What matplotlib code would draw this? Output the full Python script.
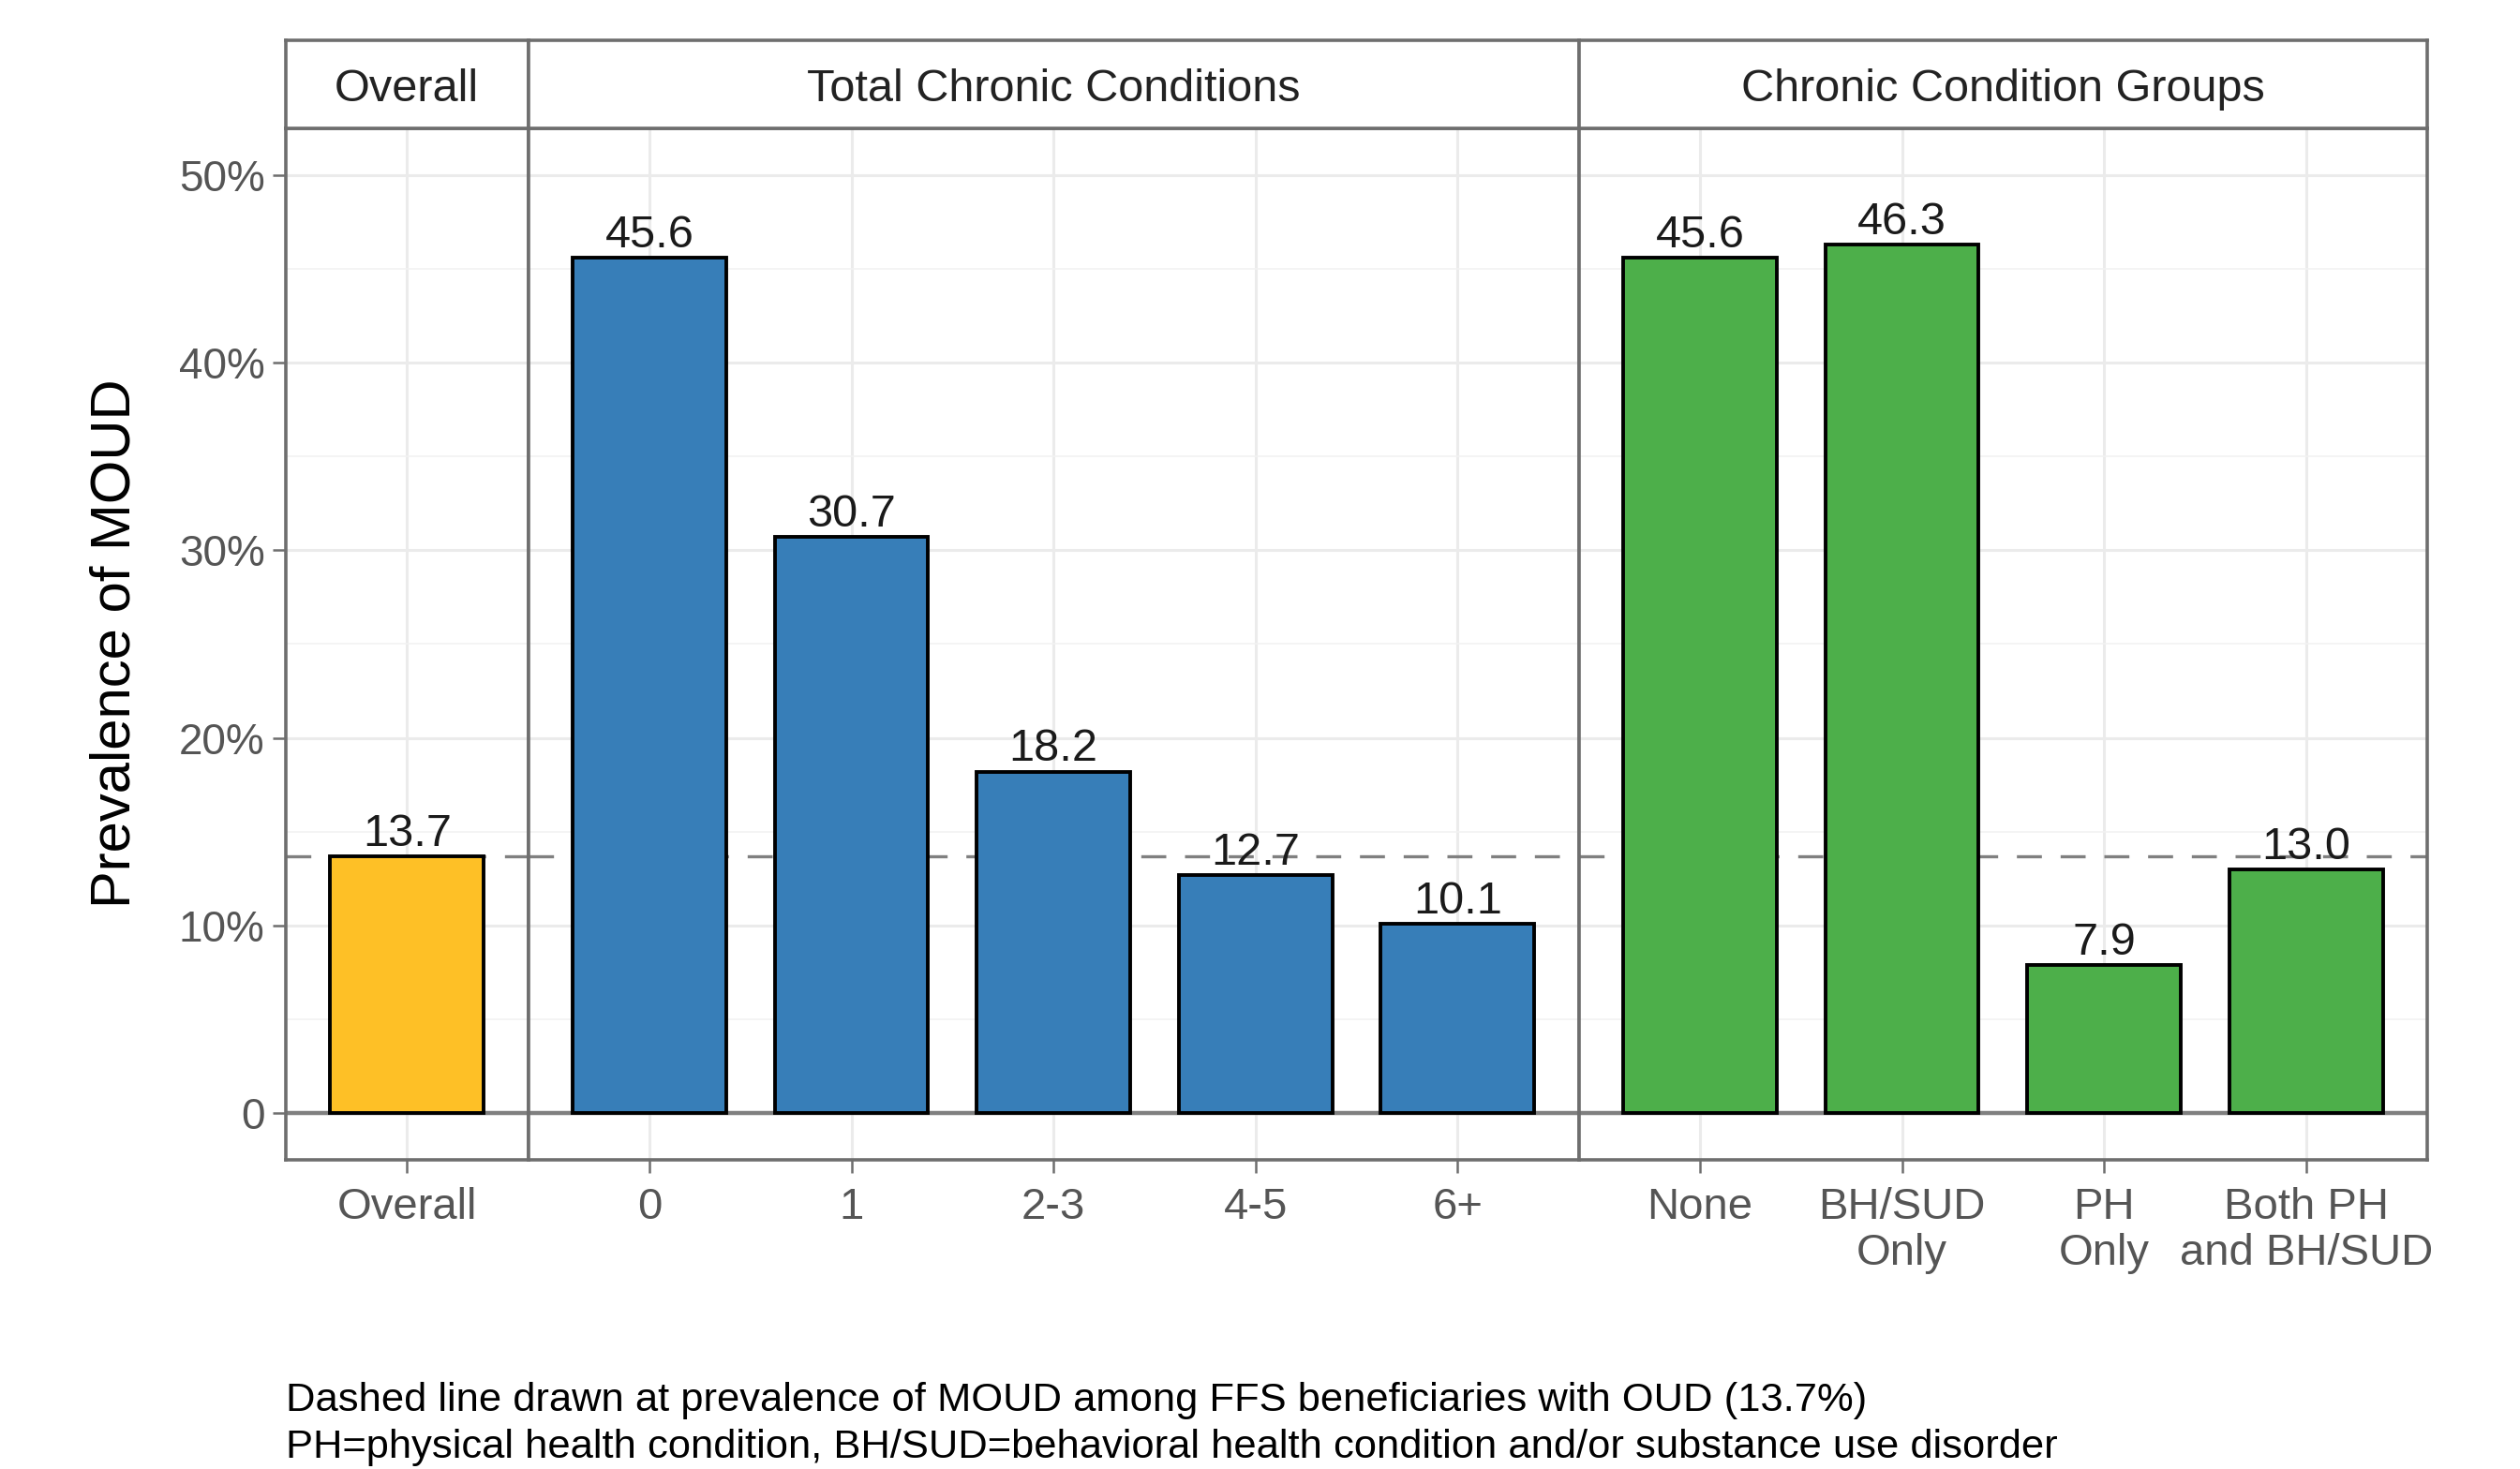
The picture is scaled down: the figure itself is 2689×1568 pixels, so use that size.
import matplotlib.pyplot as plt
from matplotlib.ticker import MultipleLocator

plt.rcParams['font.family'] = ['Liberation Sans', 'DejaVu Sans']

# données
overall_cats = ["Overall"]
overall_vals = [13.7]
total_cats = ["0", "1", "2-3", "4-5", "6+"]
total_vals = [45.6, 30.7, 18.2, 12.7, 10.1]
group_cats = ["None", "BH/SUD\nOnly", "PH\nOnly", "Both PH\nand BH/SUD"]
group_vals = [45.6, 46.3, 7.9, 13.0]
strip_titles = ["Overall", "Total Chronic Conditions", "Chronic Condition Groups"]
ref_line = 13.7
y_ticks = [0, 10, 20, 30, 40, 50]
y_ticklabels = ["0", "10%", "20%", "30%", "40%", "50%"]

panels = [
    (overall_cats, overall_vals, "#FEC026"),
    (total_cats, total_vals, "#377EB8"),
    (group_cats, group_vals, "#4DAF4A"),
]

fig = plt.figure(figsize=(26.89, 15.68), dpi=100)
left, right, bottom, top, strip_top = 0.1134, 0.9632, 0.2105, 0.9126, 0.9726
widths = [len(p[0]) + 0.2 for p in panels]
total_w = sum(widths)
border = '#6E6E6E'

x0 = left
for i, (cats, vals, col) in enumerate(panels):
    w = (right - left) * widths[i] / total_w
    ax = fig.add_axes([x0, bottom, w, top - bottom])
    pos = list(range(1, len(cats) + 1))

    ax.set_xlim(0.4, len(cats) + 0.6)
    ax.set_ylim(-2.5, 52.5)
    ax.yaxis.set_major_locator(MultipleLocator(10))
    ax.yaxis.set_minor_locator(MultipleLocator(5))
    ax.grid(True, which='major', color='#EBEBEB', linewidth=2.2, zorder=0)
    ax.grid(True, which='minor', axis='y', color='#F2F2F2', linewidth=1.2, zorder=0)
    ax.set_axisbelow(True)

    ax.axhline(ref_line, color='#808080', linestyle=(0, (8, 6)), linewidth=2.4, zorder=1)
    ax.axhline(0, color='#808080', linewidth=3.2, zorder=1)

    ax.bar(pos, vals, width=0.76, color=col, edgecolor='black', linewidth=2.8, zorder=2)
    for xp, v in zip(pos, vals):
        ax.annotate(f"{v:.1f}", (xp, v), xytext=(0, 8), textcoords='offset points',
                    ha='center', va='baseline', fontsize=35, color='#1A1A1A', zorder=3)

    ax.set_xticks(pos)
    ax.set_xticklabels(cats, fontsize=34, color='#555555', linespacing=1.15)
    ax.tick_params(axis='x', length=10, width=1.8, color=border, pad=11)
    ax.tick_params(axis='y', which='minor', length=0)
    if i == 0:
        ax.set_yticks(y_ticks)
        ax.set_yticklabels(y_ticklabels, fontsize=33, color='#555555')
        ax.tick_params(axis='y', which='major', length=10, width=1.8, color=border, pad=6)
    else:
        ax.tick_params(axis='y', which='major', length=0, labelleft=False)

    for s in ax.spines.values():
        s.set_color(border)
        s.set_linewidth(2.6)

    # bandeau du haut
    sax = fig.add_axes([x0, top, w, strip_top - top])
    sax.set_xticks([])
    sax.set_yticks([])
    sax.set_facecolor('white')
    for s in sax.spines.values():
        s.set_color(border)
        s.set_linewidth(2.6)
    sax.text(0.5, 0.44, strip_titles[i], ha='center', va='center', fontsize=35,
             color='#222222', transform=sax.transAxes)

    x0 += w

fig.text(0.0459, 0.5618, "Prevalence of MOUD", rotation=90, ha='center', va='center',
         fontsize=43, color='black')

fig.text(left, 0.0466, "Dashed line drawn at prevalence of MOUD among FFS beneficiaries with OUD (13.7%)",
         ha='left', va='center', fontsize=31.3, color='black')
fig.text(left, 0.0147, "PH=physical health condition, BH/SUD=behavioral health condition and/or substance use disorder",
         ha='left', va='center', fontsize=31.3, color='black')

fig.savefig("out.png", dpi=100, facecolor='white')
